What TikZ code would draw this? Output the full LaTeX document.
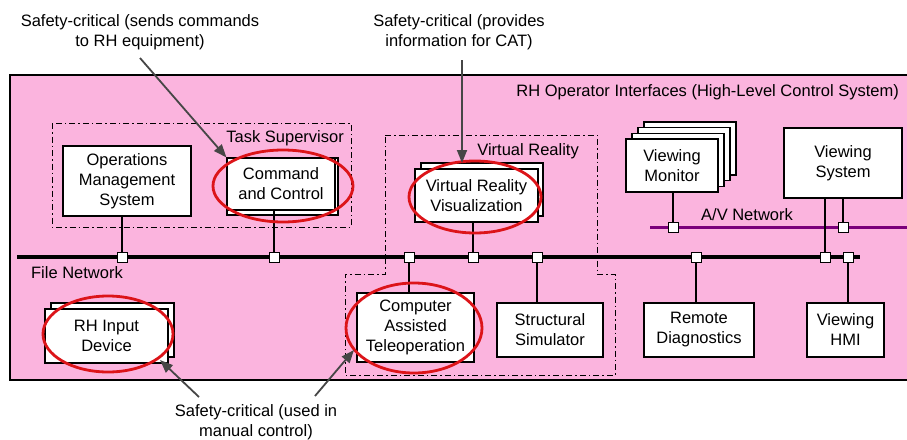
\documentclass[tikz,border=0pt]{standalone}
\usepackage{fontspec}
\setmainfont{Liberation Sans}
\usetikzlibrary{arrows.meta}
\definecolor{bgpink}{RGB}{251,180,222}
\definecolor{avpurple}{RGB}{122,0,122}
\definecolor{ringred}{RGB}{220,20,25}
\definecolor{calloutgray}{RGB}{70,70,70}
\begin{document}
\begin{tikzpicture}[x=1pt,y=-1pt,
  txt/.style={font=\fontsize{16.5}{20}\selectfont, align=center, inner sep=0pt},
  box/.style={txt, draw, fill=white, line width=1.2pt},
  backbox/.style={draw, fill=white, line width=1.2pt},
  port/.style={draw, fill=white, line width=1pt, minimum size=10pt, inner sep=0pt},
  link/.style={line width=1.3pt},
  grp/.style={line width=1pt, dash pattern=on 6pt off 3pt on 1.5pt off 3pt},
  ring/.style={draw=ringred, line width=2.8pt},
  callout/.style={-{Triangle[length=13pt,width=10pt]}, line width=1.8pt, draw=calloutgray, color=calloutgray},
]
\useasboundingbox (0,0) rectangle (907,439);

% background panel
\fill[bgpink] (10,75) rectangle (907,380);
\draw[line width=1.1pt] (907,75) -- (10,75) -- (10,380) -- (907,380);

% groups
\draw[grp] (52,123) rectangle (351,227);
\draw[grp] (385,135) -- (597,135) -- (597,274) -- (615,274) -- (615,375) -- (345,375) -- (345,274) -- (385,274) -- cycle;

% networks
\coordinate (fnL) at (17,257);
\coordinate (fnR) at (860,257);
\draw[line width=4pt] (fnL) -- (fnR);
\coordinate (avL) at (650,227);
\coordinate (avR) at (907,227);
\draw[line width=3pt, avpurple] (avL) -- (avR);

% back boxes (stacks)
\filldraw[backbox] (227,158) rectangle (338,215);
\filldraw[backbox] (421,163) rectangle (543,216);
\filldraw[backbox] (51,303) rectangle (174,357);
\foreach \k in {3,2,1}{
  \filldraw[backbox] ({626+6*\k},{139-5.7*\k}) rectangle ({718+6*\k},{192-5.7*\k});
}

% boxes
\node[box, minimum width=128pt, minimum height=70pt] (oms) at (127,181) {Operations\\Management\\System};
\node[box, minimum width=108pt, minimum height=52pt] (cc) at (281,184) {Command\\and Control};
\node[box, minimum width=123pt, minimum height=53pt] (vrv) at (476.5,195.5) {Virtual Reality\\Visualization};
\node[box, minimum width=117pt, minimum height=69pt] (cat) at (415.5,327.5) {Computer\\Assisted\\Teleoperation};
\node[box, minimum width=106pt, minimum height=54pt] (ss) at (550,330) {Structural\\Simulator};
\node[box, minimum width=110pt, minimum height=54pt] (rd) at (699,330) {Remote\\Diagnostics};
\node[box, minimum width=77pt, minimum height=54pt] (hmi) at (845.5,330) {Viewing\\HMI};
\node[box, minimum width=92pt, minimum height=53pt] (vm) at (672,165.5) {Viewing\\Monitor};
\node[box, minimum width=118pt, minimum height=70pt] (vs) at (843,163) {Viewing\\System};
\node[box, minimum width=123pt, minimum height=54pt] (rhi) at (106.5,336) {RH Input\\Device};

% ports
\node[port] (p1) at (122,257) {};
\node[port] (p2) at (274,257) {};
\node[port] (p3) at (409,257) {};
\node[port] (p4) at (473,257) {};
\node[port] (p5) at (537,257) {};
\node[port] (p6) at (696,257) {};
\node[port] (p7) at (825,257) {};
\node[port] (p8) at (848,257) {};
\node[port] (a1) at (673,227) {};
\node[port] (a2) at (843,227) {};

% connectors
\draw[link] (p1.north) -- (p1.north |- oms.south);
\draw[link] (p2.north) -- (p2.north |- cc.south);
\draw[link] (p3.south) -- (p3.south |- cat.north);
\draw[link] (p4.north) -- (p4.north |- vrv.south);
\draw[link] (p5.south) -- (p5.south |- ss.north);
\draw[link] (p6.south) -- (p6.south |- rd.north);
\draw[link] (p8.south) -- (p8.south |- hmi.north);
\draw[link] (a1.north) -- (a1.north |- vm.south);
\draw[link] (a2.north) -- (a2.north |- vs.south);
\draw[link] (p7.north) -- (p7.north |- vs.south);
\node[port] at (p7) {};
\node[port] at (a2) {};

% labels
\node[txt, anchor=east] (title) at (899,92) {RH Operator Interfaces (High-Level Control System)};
\node[txt, anchor=east] (tslbl) at (344,138) {Task Supervisor};
\node[txt, anchor=east] (vrlbl) at (579,151) {Virtual Reality};
\node[txt] (avlbl) at (747,215) {A/V Network};
\node[txt] (fnlbl) at (77,273) {File Network};

% red rings
\draw[ring] (283,186) ellipse [x radius=70pt, y radius=36pt];
\draw[ring] (475,197) ellipse [x radius=66pt, y radius=36pt];
\draw[ring] (414,328) ellipse [x radius=68pt, y radius=45pt];
\draw[ring] (108,334) ellipse [x radius=65pt, y radius=38pt];

% annotations
\node[txt] (n1) at (140,32) {Safety-critical (sends commands\\to RH equipment)};
\node[txt] (n2) at (459,32) {Safety-critical (provides\\information for CAT)};
\node[txt] (n3) at (256,422) {Safety-critical (used in\\manual control)};
\coordinate (n1s) at (140,58);
\coordinate (n2s) at (462,60);
\coordinate (n2e) at (462,163);
\coordinate (n3a) at (199,397);
\coordinate (n3b) at (315,396);
\coordinate (rhie) at (160,360);
\coordinate (cate) at (354,350);
\draw[callout] (n1s) -- (cc.north west);
\draw[callout] (n2s) -- (n2e);
\draw[callout] (n3a) -- (rhie);
\draw[callout] (n3b) -- (cate);
\end{tikzpicture}
\end{document}
